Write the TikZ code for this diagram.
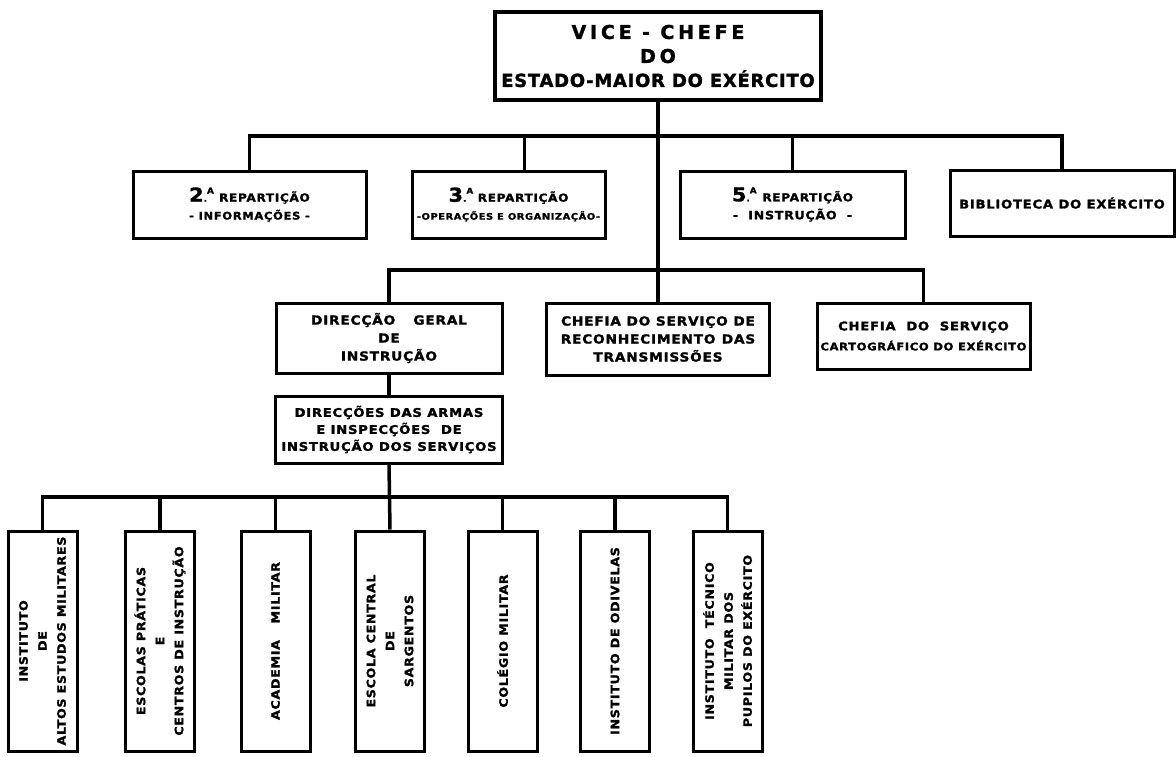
\documentclass[tikz,border=0pt]{standalone}
\usepackage{fontspec}
\usepackage{tikz}
\newfontfamily\chartfont[FakeStretch=1.1,LetterSpace=6,BoldFeatures={FakeBold=1.5}]{DejaVu Sans}
\newfontfamily\headfont[LetterSpace=4,BoldFeatures={FakeBold=1.5}]{DejaVu Sans}
\newcommand{\repart}[1]{{\fontsize{19}{19}\selectfont #1}{\fontsize{8}{8}\selectfont.\raisebox{8pt}{A}}\enspace{\fontsize{11}{12}\selectfont REPARTIÇÃO}}

\begin{document}
\begin{tikzpicture}[x=1pt, y=-1pt,
  box/.style={draw, line width=3pt, align=center, inner sep=0pt, font=\chartfont\bfseries},
  tall/.style={box, rotate=90, minimum width=220, minimum height=69,
    font=\chartfont\bfseries\fontsize{11.5}{19}\selectfont},
  wire/.style={line width=3.5pt}]
\def \rowa {204.5}
\def \rowb {338}

\useasboundingbox (0,0) rectangle (1176,756);

% top
\node[box, line width=3.5pt, minimum width=326, minimum height=88, font=\headfont\bfseries\fontsize{18}{24}\selectfont] (vc) at (658,56) {{\fontsize{19}{24}\selectfont\addfontfeature{LetterSpace=20}VICE - CHEFE}\\{\fontsize{19}{24}\selectfont\addfontfeature{LetterSpace=20}DO}\\ESTADO-MAIOR DO EXÉRCITO};

% repartições
\node[box, minimum width=233, minimum height=67, font=\chartfont\bfseries\fontsize{10.5}{18}\selectfont] (r2) at (249.5,\rowa) {\repart{2}\\- INFORMAÇÕES -};
\node[box, minimum width=193, minimum height=67, font=\chartfont\bfseries\fontsize{9}{18}\selectfont] (r3) at (508.5,\rowa) {\repart{3}\\-OPERAÇÕES E ORGANIZAÇÃO-};
\node[box, minimum width=225, minimum height=67, font=\chartfont\bfseries\fontsize{11.5}{18}\selectfont] (r5) at (792.5,\rowa) {\repart{5}\\- \ INSTRUÇÃO \ -};
\node[box, minimum width=224, minimum height=66, font=\chartfont\bfseries\fontsize{12}{18}\selectfont] (bib) at (1062,203) {BIBLIOTECA DO EXÉRCITO};

% direcção e chefias
\node[box, minimum width=226, minimum height=70, font=\chartfont\bfseries\fontsize{12.5}{18}\selectfont] (dgi) at (389,\rowb) {DIRECÇÃO \quad GERAL\\DE\\INSTRUÇÃO};
\node[box, minimum width=223, minimum height=72, font=\chartfont\bfseries\fontsize{12.5}{18}\selectfont] (csr) at (658,339) {CHEFIA DO SERVIÇO DE\\RECONHECIMENTO\enspace DAS\\TRANSMISSÕES};
\node[box, minimum width=213, minimum height=66, font=\chartfont\bfseries\fontsize{10.5}{20}\selectfont] (csc) at (923.5,336) {{\fontsize{12}{20}\selectfont CHEFIA \ DO \ SERVIÇO}\\CARTOGRÁFICO DO EXÉRCITO};
\node[box, minimum width=227, minimum height=67, font=\chartfont\bfseries\fontsize{12}{17}\selectfont] (dai) at (389,429.5) {DIRECÇÕES DAS ARMAS\\E INSPECÇÕES \ DE\\INSTRUÇÃO DOS SERVIÇOS};

% escolas
\node[tall] (b1) at (42.5,641) {INSTITUTO\\DE\\ALTOS ESTUDOS MILITARES};
\node[tall] (b2) at (160,641) {ESCOLAS PRÁTICAS\\E\\CENTROS DE INSTRUÇÃO};
\node[tall] (b3) at (275.5,641) {ACADEMIA \quad MILITAR};
\node[tall] (b4) at (390,641) {ESCOLA CENTRAL\\DE\\SARGENTOS};
\node[tall] (b5) at (502.5,641) {COLÉGIO MILITAR};
\node[tall] (b6) at (615,641) {INSTITUTO DE ODIVELAS};
\node[tall] (b7) at (727.5,641) {INSTITUTO \ TÉCNICO\\MILITAR DOS\\PUPILOS DO EXÉRCITO};

% ligações
\coordinate (bus1) at (658,136);
\coordinate (bus2) at (658,270);
\coordinate (bus3) at (389,497);

\draw[wire] (vc.south) -- (csr.north);
\draw[wire] (r2.north) |- (bus1) -| (bib.north);
\draw[wire] ([xshift=16pt]r3.north) -- ([xshift=16pt]r3.north |- bus1);
\draw[wire] (r5.north) -- (r5.north |- bus1);

\draw[wire] (dgi.north) |- (bus2) -| (csc.north);
\draw[wire] (dgi.south) -- (dai.north);

\draw[wire] (b1.east) |- (bus3) -| (b7.east);
\draw[wire] (dai.south) -- (b4.east);
\foreach \b in {b2,b3,b5,b6}
  \draw[wire] (\b.east) -- (\b.east |- bus3);

\end{tikzpicture}
\end{document}
